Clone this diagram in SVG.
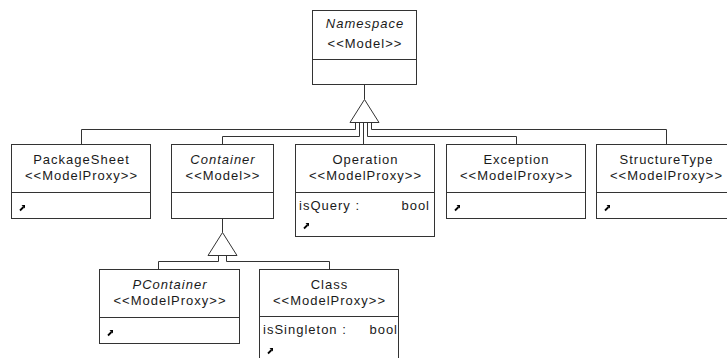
<svg xmlns="http://www.w3.org/2000/svg" width="727" height="358" viewBox="0 0 727 358">
<style>
.box{fill:#fff;stroke:#333;stroke-width:1}
.div{stroke:#333;stroke-width:1}
.t{font-family:"Liberation Sans",Arial,sans-serif;font-size:13px;letter-spacing:1px;fill:#1a1a1a;text-anchor:middle}
.i{font-style:italic}
.a{font-family:"Liberation Sans",Arial,sans-serif;font-size:13px;letter-spacing:1px;fill:#1a1a1a}
.e{text-anchor:end}
.edge{fill:none;stroke:#333;stroke-width:1}
.tri{fill:#fff;stroke:#333;stroke-width:1}
</style>
<defs>
<g id="icon">
<path d="M-2 2.5 L1.5 -1" stroke="#000" stroke-width="1.8" fill="none"/>
<path d="M-0.5 -3 L3 -3 L3 0.5 Z" fill="#000"/>
</g>
</defs>
<rect width="727" height="358" fill="#fff"/>
<g id="connectors">
<path class="edge" d="M364.5 84.5 V99.5"/>
<path class="edge" d="M355.5 122.5 V129.5 H81.5 V144"/>
<path class="edge" d="M359.5 122.5 V136.5 H222.5 V144"/>
<path class="edge" d="M363.5 122.5 V144"/>
<path class="edge" d="M367.5 122.5 V136.5 H516.5 V144"/>
<path class="edge" d="M371.5 122.5 V129.5 H666.5 V144"/>
<polygon class="tri" points="364.5,99.5 379,122.5 350,122.5"/>
<path class="edge" d="M222.5 218 V232.5"/>
<path class="edge" d="M218.5 255.5 V261.5 H158.5 V269"/>
<path class="edge" d="M226.5 255.5 V261.5 H329.5 V269"/>
<polygon class="tri" points="222.5,232.5 237,255.5 208,255.5"/>
</g>
<g id="Namespace">
<rect class="box" x="312.5" y="10.5" width="104" height="74"/>
<line class="div" x1="312.5" y1="59.5" x2="416.5" y2="59.5"/>
<text class="t i" x="365" y="28">Namespace</text>
<text class="t" x="365" y="48">&lt;&lt;Model&gt;&gt;</text>
</g>
<g id="PackageSheet">
<rect class="box" x="11.5" y="144.5" width="139" height="74"/>
<line class="div" x1="11.5" y1="192.5" x2="150.5" y2="192.5"/>
<text class="t" x="81.5" y="164">PackageSheet</text>
<text class="t" x="81.5" y="180">&lt;&lt;ModelProxy&gt;&gt;</text>
<use href="#icon" x="22" y="208"/>
</g>
<g id="Container">
<rect class="box" x="171.5" y="144.5" width="102" height="74"/>
<line class="div" x1="171.5" y1="192.5" x2="273.5" y2="192.5"/>
<text class="t i" x="223" y="164">Container</text>
<text class="t" x="223" y="180">&lt;&lt;Model&gt;&gt;</text>
</g>
<g id="Operation">
<rect class="box" x="295.5" y="144.5" width="139" height="92"/>
<line class="div" x1="295.5" y1="192.5" x2="434.5" y2="192.5"/>
<text class="t" x="365.5" y="164">Operation</text>
<text class="t" x="365.5" y="180">&lt;&lt;ModelProxy&gt;&gt;</text>
<text class="a" x="299" y="210">isQuery :</text>
<text class="a e" x="430" y="210">bool</text>
<use href="#icon" x="306" y="226"/>
</g>
<g id="Exception">
<rect class="box" x="446.5" y="144.5" width="139" height="74"/>
<line class="div" x1="446.5" y1="192.5" x2="585.5" y2="192.5"/>
<text class="t" x="516.5" y="164">Exception</text>
<text class="t" x="516.5" y="180">&lt;&lt;ModelProxy&gt;&gt;</text>
<use href="#icon" x="457" y="208"/>
</g>
<g id="StructureType">
<rect class="box" x="596.5" y="144.5" width="139" height="74"/>
<line class="div" x1="596.5" y1="192.5" x2="735.5" y2="192.5"/>
<text class="t" x="666.5" y="164">StructureType</text>
<text class="t" x="666.5" y="180">&lt;&lt;ModelProxy&gt;&gt;</text>
<use href="#icon" x="607" y="208"/>
</g>
<g id="PContainer">
<rect class="box" x="99.5" y="269.5" width="140" height="74"/>
<line class="div" x1="99.5" y1="317.5" x2="239.5" y2="317.5"/>
<text class="t i" x="170" y="289">PContainer</text>
<text class="t" x="170" y="305">&lt;&lt;ModelProxy&gt;&gt;</text>
<use href="#icon" x="110" y="333"/>
</g>
<g id="Class">
<rect class="box" x="259.5" y="269.5" width="139" height="92"/>
<line class="div" x1="259.5" y1="316.5" x2="398.5" y2="316.5"/>
<text class="t" x="329.5" y="289">Class</text>
<text class="t" x="329.5" y="305">&lt;&lt;ModelProxy&gt;&gt;</text>
<text class="a" x="263" y="334">isSingleton :</text>
<text class="a e" x="398" y="334">bool</text>
<use href="#icon" x="270" y="351"/>
</g>
</svg>
